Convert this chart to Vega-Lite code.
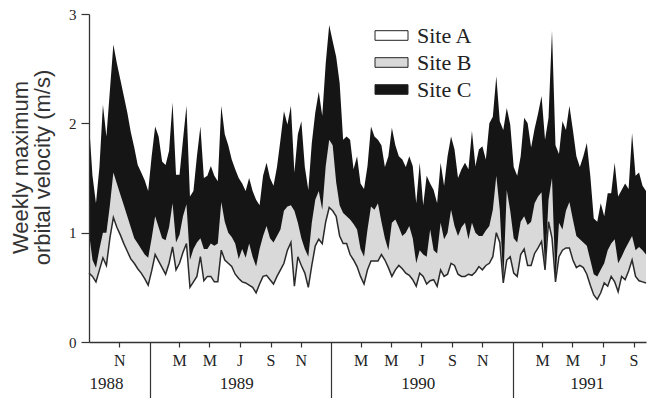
{
"$schema": "https://vega.github.io/schema/vega-lite/v6.json",
"width": 557, "height": 328,
"autosize": {"type": "none"},
"padding": {"left": 89, "top": 14, "right": 5, "bottom": 56},
"background": "white",
"config": {"view": {"stroke": null},
"axis": {"domainColor": "#333", "tickColor": "#333", "labelColor": "#222", "grid": false, "zindex": 1},
"legend": {"labelFont": "Liberation Serif", "labelFontSize": 22, "labelColor": "#222"}},
"data": {"values": [
{"d":"1988-09-01","c":2.0,"b":1.0,"a":0.63},
{"d":"1988-09-08","c":1.52,"b":0.75,"a":0.6},
{"d":"1988-09-15","c":1.27,"b":0.68,"a":0.55},
{"d":"1988-09-22","c":1.6,"b":0.85,"a":0.66},
{"d":"1988-09-29","c":2.17,"b":1.0,"a":0.77},
{"d":"1988-10-06","c":1.88,"b":1.0,"a":0.7},
{"d":"1988-10-13","c":2.3,"b":1.25,"a":0.95},
{"d":"1988-10-20","c":2.72,"b":1.55,"a":1.14},
{"d":"1988-10-27","c":2.55,"b":1.45,"a":1.05},
{"d":"1988-11-03","c":2.4,"b":1.35,"a":0.98},
{"d":"1988-11-10","c":2.25,"b":1.25,"a":0.9},
{"d":"1988-11-17","c":2.1,"b":1.15,"a":0.83},
{"d":"1988-11-24","c":1.92,"b":1.05,"a":0.76},
{"d":"1988-12-01","c":1.78,"b":0.95,"a":0.72},
{"d":"1988-12-08","c":1.62,"b":0.9,"a":0.67},
{"d":"1988-12-15","c":1.55,"b":0.85,"a":0.63},
{"d":"1988-12-22","c":1.48,"b":0.8,"a":0.58},
{"d":"1988-12-29","c":1.38,"b":0.77,"a":0.52},
{"d":"1989-01-05","c":1.7,"b":0.95,"a":0.65},
{"d":"1989-01-12","c":1.97,"b":1.15,"a":0.8},
{"d":"1989-01-19","c":1.88,"b":1.05,"a":0.74},
{"d":"1989-01-26","c":1.65,"b":0.95,"a":0.68},
{"d":"1989-02-02","c":1.62,"b":0.93,"a":0.62},
{"d":"1989-02-09","c":1.75,"b":1.05,"a":0.72},
{"d":"1989-02-16","c":2.19,"b":1.27,"a":0.87},
{"d":"1989-02-23","c":1.53,"b":0.91,"a":0.66},
{"d":"1989-03-02","c":1.53,"b":0.98,"a":0.72},
{"d":"1989-03-09","c":1.85,"b":1.15,"a":0.82},
{"d":"1989-03-16","c":2.16,"b":1.26,"a":0.9},
{"d":"1989-03-23","c":1.33,"b":0.75,"a":0.5},
{"d":"1989-03-30","c":1.38,"b":0.85,"a":0.55},
{"d":"1989-04-06","c":1.7,"b":0.91,"a":0.6},
{"d":"1989-04-13","c":1.97,"b":0.95,"a":0.78},
{"d":"1989-04-20","c":1.5,"b":0.85,"a":0.56},
{"d":"1989-04-27","c":1.52,"b":0.85,"a":0.6},
{"d":"1989-05-04","c":1.61,"b":0.9,"a":0.6},
{"d":"1989-05-11","c":1.52,"b":0.88,"a":0.55},
{"d":"1989-05-18","c":1.47,"b":0.9,"a":0.55},
{"d":"1989-05-25","c":2.16,"b":1.28,"a":0.84},
{"d":"1989-06-01","c":1.9,"b":1.1,"a":0.75},
{"d":"1989-06-08","c":1.8,"b":1.0,"a":0.72},
{"d":"1989-06-15","c":1.67,"b":0.96,"a":0.69},
{"d":"1989-06-22","c":1.58,"b":0.9,"a":0.62},
{"d":"1989-06-29","c":1.5,"b":0.76,"a":0.58},
{"d":"1989-07-06","c":1.45,"b":0.85,"a":0.55},
{"d":"1989-07-13","c":1.38,"b":0.77,"a":0.54},
{"d":"1989-07-20","c":1.5,"b":0.9,"a":0.52},
{"d":"1989-07-27","c":1.38,"b":0.78,"a":0.5},
{"d":"1989-08-03","c":1.3,"b":0.69,"a":0.45},
{"d":"1989-08-10","c":1.25,"b":0.85,"a":0.53},
{"d":"1989-08-17","c":1.52,"b":0.97,"a":0.6},
{"d":"1989-08-24","c":1.64,"b":1.06,"a":0.61},
{"d":"1989-08-31","c":1.5,"b":0.95,"a":0.57},
{"d":"1989-09-07","c":1.43,"b":0.91,"a":0.53},
{"d":"1989-09-14","c":1.6,"b":0.97,"a":0.6},
{"d":"1989-09-21","c":1.85,"b":1.03,"a":0.66},
{"d":"1989-09-28","c":2.11,"b":1.2,"a":0.72},
{"d":"1989-10-05","c":1.99,"b":1.24,"a":0.84},
{"d":"1989-10-12","c":2.16,"b":1.25,"a":0.91},
{"d":"1989-10-19","c":1.55,"b":1.2,"a":0.51},
{"d":"1989-10-26","c":1.9,"b":1.09,"a":0.78},
{"d":"1989-11-02","c":2.02,"b":0.95,"a":0.7},
{"d":"1989-11-09","c":1.6,"b":0.85,"a":0.63},
{"d":"1989-11-16","c":1.39,"b":0.78,"a":0.5},
{"d":"1989-11-23","c":1.82,"b":1.09,"a":0.7},
{"d":"1989-11-30","c":2.1,"b":1.3,"a":0.88},
{"d":"1989-12-07","c":2.29,"b":1.38,"a":0.94},
{"d":"1989-12-14","c":2.07,"b":1.21,"a":0.9},
{"d":"1989-12-21","c":2.55,"b":1.61,"a":1.1},
{"d":"1989-12-28","c":2.9,"b":1.85,"a":1.23},
{"d":"1990-01-04","c":2.75,"b":1.8,"a":1.2},
{"d":"1990-01-11","c":2.61,"b":1.46,"a":1.15},
{"d":"1990-01-18","c":2.37,"b":1.25,"a":0.97},
{"d":"1990-01-25","c":1.85,"b":1.18,"a":0.9},
{"d":"1990-02-01","c":1.88,"b":1.15,"a":0.9},
{"d":"1990-02-08","c":1.85,"b":1.12,"a":0.8},
{"d":"1990-02-15","c":1.58,"b":1.08,"a":0.75},
{"d":"1990-02-22","c":1.7,"b":1.03,"a":0.69},
{"d":"1990-03-01","c":1.45,"b":0.85,"a":0.6},
{"d":"1990-03-08","c":1.4,"b":0.78,"a":0.53},
{"d":"1990-03-15","c":1.61,"b":1.03,"a":0.66},
{"d":"1990-03-22","c":1.97,"b":1.24,"a":0.74},
{"d":"1990-03-29","c":1.88,"b":1.21,"a":0.74},
{"d":"1990-04-05","c":1.85,"b":1.27,"a":0.74},
{"d":"1990-04-12","c":1.8,"b":1.1,"a":0.8},
{"d":"1990-04-19","c":1.6,"b":0.95,"a":0.75},
{"d":"1990-04-26","c":1.7,"b":0.84,"a":0.68},
{"d":"1990-05-03","c":1.96,"b":1.09,"a":0.6},
{"d":"1990-05-10","c":1.8,"b":1.12,"a":0.66},
{"d":"1990-05-17","c":1.7,"b":1.05,"a":0.7},
{"d":"1990-05-24","c":1.67,"b":0.97,"a":0.67},
{"d":"1990-05-31","c":1.6,"b":1.0,"a":0.63},
{"d":"1990-06-07","c":1.7,"b":1.06,"a":0.61},
{"d":"1990-06-14","c":1.61,"b":0.95,"a":0.57},
{"d":"1990-06-21","c":1.27,"b":0.72,"a":0.51},
{"d":"1990-06-28","c":1.64,"b":0.84,"a":0.63},
{"d":"1990-07-05","c":1.25,"b":0.8,"a":0.6},
{"d":"1990-07-12","c":1.52,"b":0.78,"a":0.53},
{"d":"1990-07-19","c":1.45,"b":1.03,"a":0.56},
{"d":"1990-07-26","c":1.39,"b":0.84,"a":0.57},
{"d":"1990-08-02","c":1.27,"b":0.81,"a":0.51},
{"d":"1990-08-09","c":1.64,"b":1.09,"a":0.66},
{"d":"1990-08-16","c":1.43,"b":0.94,"a":0.6},
{"d":"1990-08-23","c":1.7,"b":1.0,"a":0.62},
{"d":"1990-08-30","c":1.88,"b":1.21,"a":0.72},
{"d":"1990-09-06","c":1.76,"b":1.06,"a":0.7},
{"d":"1990-09-13","c":1.5,"b":0.97,"a":0.62},
{"d":"1990-09-20","c":1.58,"b":1.05,"a":0.6},
{"d":"1990-09-27","c":1.64,"b":1.09,"a":0.6},
{"d":"1990-10-04","c":1.58,"b":0.94,"a":0.62},
{"d":"1990-10-11","c":1.93,"b":1.09,"a":0.61},
{"d":"1990-10-18","c":1.61,"b":1.0,"a":0.64},
{"d":"1990-10-25","c":1.76,"b":0.97,"a":0.69},
{"d":"1990-11-01","c":1.79,"b":0.97,"a":0.66},
{"d":"1990-11-08","c":1.67,"b":1.02,"a":0.7},
{"d":"1990-11-15","c":2.0,"b":1.06,"a":0.72},
{"d":"1990-11-22","c":2.06,"b":1.21,"a":0.78},
{"d":"1990-11-29","c":2.43,"b":1.52,"a":1.0},
{"d":"1990-12-06","c":2.02,"b":1.21,"a":0.91},
{"d":"1990-12-13","c":1.94,"b":0.55,"a":0.54},
{"d":"1990-12-20","c":2.14,"b":1.39,"a":0.75},
{"d":"1990-12-27","c":1.99,"b":1.2,"a":0.78},
{"d":"1991-01-03","c":1.6,"b":0.95,"a":0.63},
{"d":"1991-01-10","c":1.52,"b":0.91,"a":0.6},
{"d":"1991-01-17","c":1.7,"b":1.1,"a":0.8},
{"d":"1991-01-24","c":2.05,"b":1.15,"a":0.85},
{"d":"1991-01-31","c":2.0,"b":1.07,"a":0.7},
{"d":"1991-02-07","c":1.78,"b":1.1,"a":0.7},
{"d":"1991-02-14","c":1.95,"b":1.27,"a":0.81},
{"d":"1991-02-21","c":2.09,"b":1.33,"a":0.86},
{"d":"1991-02-28","c":2.25,"b":1.37,"a":0.92},
{"d":"1991-03-07","c":1.85,"b":0.66,"a":0.66},
{"d":"1991-03-14","c":2.05,"b":1.3,"a":1.1},
{"d":"1991-03-21","c":2.85,"b":1.5,"a":0.95},
{"d":"1991-03-28","c":1.8,"b":0.55,"a":0.55},
{"d":"1991-04-04","c":1.72,"b":1.09,"a":0.78},
{"d":"1991-04-11","c":2.02,"b":1.03,"a":0.84},
{"d":"1991-04-18","c":1.94,"b":1.2,"a":0.86},
{"d":"1991-04-25","c":2.16,"b":1.28,"a":0.86},
{"d":"1991-05-02","c":1.94,"b":1.12,"a":0.75},
{"d":"1991-05-09","c":1.7,"b":0.97,"a":0.68},
{"d":"1991-05-16","c":1.6,"b":0.94,"a":0.7},
{"d":"1991-05-23","c":1.7,"b":0.91,"a":0.68},
{"d":"1991-05-30","c":1.82,"b":0.88,"a":0.62},
{"d":"1991-06-06","c":1.52,"b":0.75,"a":0.52},
{"d":"1991-06-13","c":1.13,"b":0.62,"a":0.43},
{"d":"1991-06-20","c":1.1,"b":0.6,"a":0.39},
{"d":"1991-06-27","c":1.27,"b":0.66,"a":0.45},
{"d":"1991-07-04","c":1.15,"b":0.72,"a":0.54},
{"d":"1991-07-11","c":1.36,"b":0.84,"a":0.51},
{"d":"1991-07-18","c":1.36,"b":0.9,"a":0.6},
{"d":"1991-07-25","c":1.64,"b":0.94,"a":0.55},
{"d":"1991-08-01","c":1.33,"b":0.72,"a":0.46},
{"d":"1991-08-08","c":1.39,"b":0.78,"a":0.6},
{"d":"1991-08-15","c":1.45,"b":0.85,"a":0.57},
{"d":"1991-08-22","c":1.4,"b":0.91,"a":0.65},
{"d":"1991-08-29","c":1.91,"b":0.97,"a":0.75},
{"d":"1991-09-05","c":1.52,"b":0.84,"a":0.6},
{"d":"1991-09-12","c":1.55,"b":0.87,"a":0.56},
{"d":"1991-09-19","c":1.43,"b":0.84,"a":0.55},
{"d":"1991-09-26","c":1.38,"b":0.8,"a":0.54}
]},
"encoding": {
"x": {"field": "d", "type": "temporal",
"scale": {"type": "utc", "nice": false, "domain": [{"year": 1988, "month": 9, "date": 1, "utc": true}, {"year": 1991, "month": 9, "date": 26, "utc": true}]},
"axis": {"title": null, "grid": false, "orient": "bottom", "zindex": 1,
"values": [{"year": 1988, "month": 11, "date": 1, "utc": true},
{"year": 1989, "month": 1, "date": 1, "utc": true},
{"year": 1989, "month": 3, "date": 1, "utc": true}, {"year": 1989, "month": 5, "date": 1, "utc": true}, {"year": 1989, "month": 7, "date": 1, "utc": true}, {"year": 1989, "month": 9, "date": 1, "utc": true}, {"year": 1989, "month": 11, "date": 1, "utc": true},
{"year": 1990, "month": 1, "date": 1, "utc": true},
{"year": 1990, "month": 3, "date": 1, "utc": true}, {"year": 1990, "month": 5, "date": 1, "utc": true}, {"year": 1990, "month": 7, "date": 1, "utc": true}, {"year": 1990, "month": 9, "date": 1, "utc": true}, {"year": 1990, "month": 11, "date": 1, "utc": true},
{"year": 1991, "month": 1, "date": 1, "utc": true},
{"year": 1991, "month": 3, "date": 1, "utc": true}, {"year": 1991, "month": 5, "date": 1, "utc": true}, {"year": 1991, "month": 7, "date": 1, "utc": true}, {"year": 1991, "month": 9, "date": 1, "utc": true},
{"year": 1988, "month": 10, "date": 5, "utc": true}, {"year": 1989, "month": 6, "date": 24, "utc": true}, {"year": 1990, "month": 6, "date": 24, "utc": true}, {"year": 1991, "month": 5, "date": 30, "utc": true}],
"labelExpr": "utcdate(datum.value) != 1 ? '' + utcyear(datum.value) : (utcmonth(datum.value) == 0 ? '' : ['J','F','M','A','M','J','J','A','S','O','N','D'][utcmonth(datum.value)])",
"tickSize": {"condition": {"test": "utcmonth(datum.value) == 0 && utcdate(datum.value) == 1", "value": 56}, "value": 5},
"tickOpacity": {"condition": {"test": "utcdate(datum.value) != 1", "value": 0}, "value": 1},
"labelPadding": {"condition": {"test": "utcdate(datum.value) != 1", "value": 28}, "value": 5},
"labelFontSize": {"condition": {"test": "utcdate(datum.value) != 1", "value": 17}, "value": 16},
"tickWidth": 1.2, "domainWidth": 1.3,
"labelFont": "Liberation Serif", "labelAngle": 0, "labelOverlap": false, "labelFlush": false, "labelBound": false}}
},
"layer": [
{
"mark": {"type": "area", "interpolate": "linear"},
"encoding": {
"y": {"field": "c", "type": "quantitative", "scale": {"domain": [0, 3], "nice": false},
"axis": {"orient": "left", "zindex": 1, "values": [0, 1, 2, 3], "format": "d", "tickSize": 8, "tickWidth": 1.2, "domainWidth": 1.3, "labelPadding": 5, "domainColor": "#333", "tickColor": "#333", "labelColor": "#222", "labelFont": "Liberation Serif", "labelFontSize": 15, "title": ["Weekly maximum", "orbital velocity (m/s)"], "titleFont": "Liberation Sans", "titleFontSize": 22, "titleFontWeight": "normal", "titleColor": "#333", "titleLineHeight": 22, "titleAngle": -90, "titleX": -62, "titleY": 153, "titleAlign": "center", "titleBaseline": "alphabetic"}},
"color": {"datum": "Site C", "type": "nominal",
"scale": {"domain": ["Site A", "Site B", "Site C"], "range": ["#ffffff", "#d9d9d9", "#151515"]},
"legend": {"orient": "none", "legendX": 290, "legendY": 9, "title": null,
"symbolType": "M-1.375,-0.4H1.375V0.4H-1.375Z", "symbolSize": 576, "symbolStrokeColor": "#222", "symbolStrokeWidth": 1,
"labelFont": "Liberation Serif", "labelFontSize": 22, "labelColor": "#222", "rowPadding": 3, "labelOffset": 13}}
}
},
{
"mark": {"type": "area", "interpolate": "linear"},
"encoding": {
"y": {"field": "b", "type": "quantitative", "scale": {"domain": [0, 3], "nice": false},
"axis": {"orient": "left", "zindex": 1, "values": [0, 1, 2, 3], "format": "d", "tickSize": 8, "tickWidth": 1.2, "domainWidth": 1.3, "labelPadding": 5, "domainColor": "#333", "tickColor": "#333", "labelColor": "#222", "labelFont": "Liberation Serif", "labelFontSize": 15, "title": ["Weekly maximum", "orbital velocity (m/s)"], "titleFont": "Liberation Sans", "titleFontSize": 22, "titleFontWeight": "normal", "titleColor": "#333", "titleLineHeight": 22, "titleAngle": -90, "titleX": -62, "titleY": 153, "titleAlign": "center", "titleBaseline": "alphabetic"}},
"color": {"datum": "Site B", "type": "nominal"}
}
},
{
"mark": {"type": "area", "interpolate": "linear"},
"encoding": {
"y": {"field": "a", "type": "quantitative", "scale": {"domain": [0, 3], "nice": false},
"axis": {"orient": "left", "zindex": 1, "values": [0, 1, 2, 3], "format": "d", "tickSize": 8, "tickWidth": 1.2, "domainWidth": 1.3, "labelPadding": 5, "domainColor": "#333", "tickColor": "#333", "labelColor": "#222", "labelFont": "Liberation Serif", "labelFontSize": 15, "title": ["Weekly maximum", "orbital velocity (m/s)"], "titleFont": "Liberation Sans", "titleFontSize": 22, "titleFontWeight": "normal", "titleColor": "#333", "titleLineHeight": 22, "titleAngle": -90, "titleX": -62, "titleY": 153, "titleAlign": "center", "titleBaseline": "alphabetic"}},
"color": {"datum": "Site A", "type": "nominal"}
}
},
{
"mark": {"type": "line", "interpolate": "linear", "stroke": "#2a2a2a", "strokeWidth": 1.5},
"encoding": {
"y": {"field": "a", "type": "quantitative", "scale": {"domain": [0, 3], "nice": false},
"axis": {"orient": "left", "zindex": 1, "values": [0, 1, 2, 3], "format": "d", "tickSize": 8, "tickWidth": 1.2, "domainWidth": 1.3, "labelPadding": 5, "domainColor": "#333", "tickColor": "#333", "labelColor": "#222", "labelFont": "Liberation Serif", "labelFontSize": 15, "title": ["Weekly maximum", "orbital velocity (m/s)"], "titleFont": "Liberation Sans", "titleFontSize": 22, "titleFontWeight": "normal", "titleColor": "#333", "titleLineHeight": 22, "titleAngle": -90, "titleX": -62, "titleY": 153, "titleAlign": "center", "titleBaseline": "alphabetic"}}
}
}
]
}
